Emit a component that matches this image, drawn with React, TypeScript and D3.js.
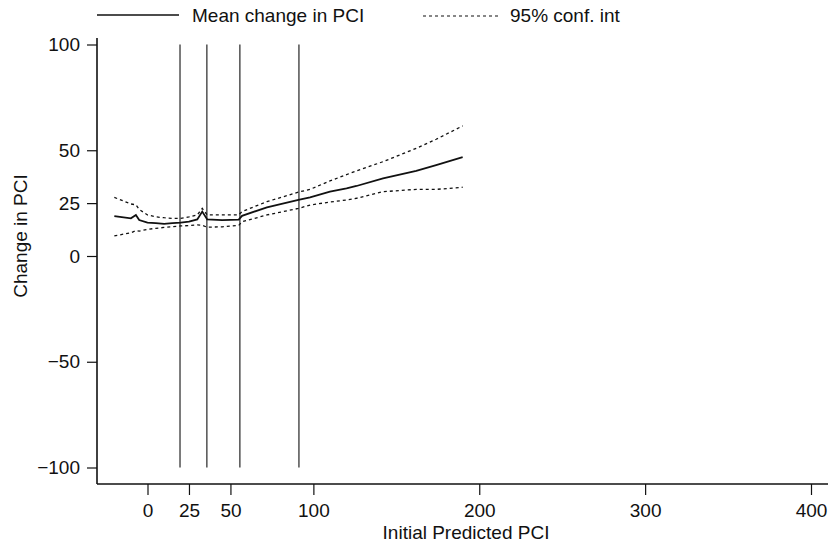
import React, { useRef, useEffect } from "react";
import * as d3 from "d3";

// values
const pci = [-20, -10, -7, -5, 0, 5, 10, 15, 20, 25, 30, 33, 36, 45, 55, 57, 72, 91, 98, 110, 120, 126, 142, 162, 174, 190];
const meanChange = [18.9, 17.8, 19.4, 17, 15.8, 15.5, 15.2, 15.5, 15.8, 16.2, 17.3, 21, 17.3, 17, 17.2, 19, 23, 26.5, 27.7, 30.4, 32, 33.1, 36.7, 40.3, 43, 46.7];
const upperCI = [27.7, 24.6, 24.2, 22, 19.4, 18.5, 18.1, 17.8, 17.8, 18.5, 19.4, 22.5, 19.4, 19.4, 19.5, 21, 25.7, 30.2, 31.5, 35.5, 38.5, 40.2, 44.6, 50.9, 55.2, 61.5];
const lowerCI = [9.5, 11, 12, 11.8, 12.6, 13.1, 13.5, 13.8, 14.2, 14.4, 14.7, 14.5, 13.6, 13.8, 14.5, 16.2, 19.4, 22.5, 24.1, 25.5, 26.5, 27.3, 30.4, 31.5, 31.5, 32.5];
const cutPoints = [19.6, 35.8, 55.7, 91.3];
const xTicks = [0, 25, 50, 100, 200, 300, 400];
const yTicks = [-100, -50, 0, 25, 50, 100];

const font = "'Liberation Sans', Arial, sans-serif";

function App() {
    const ref = useRef(null);

    const width = 831, height = 552;
    const left = 97, bottom = 484;

    useEffect(() => {
        const svg = d3.select(ref.current);
        svg.selectAll("*").remove();

        const x = d3.scaleLinear().domain([0, 400]).range([147.5, 811]);
        const y = d3.scaleLinear().domain([-100, 100]).range([467.5, 44.5]);

        // axes
        const xAxis = svg.append("g")
            .attr("transform", "translate(0," + bottom + ")")
            .call(d3.axisBottom(x).tickValues(xTicks).tickSize(11).tickPadding(9).tickFormat(d3.format("d")));
        xAxis.select(".domain").attr("d", "M" + left + ",0H828");
        const yAxis = svg.append("g")
            .attr("transform", "translate(" + left + ",0)")
            .call(d3.axisLeft(y).tickValues(yTicks).tickSize(10).tickPadding(7)
                .tickFormat(d => (d < 0 ? "\u2212" + Math.abs(d) : String(d))));
        yAxis.select(".domain").attr("d", "M0,38V" + bottom);

        svg.selectAll(".domain").attr("stroke", "#111").attr("stroke-width", 1.6);
        svg.selectAll(".tick line").attr("stroke", "#111").attr("stroke-width", 1.2);
        svg.selectAll(".tick text")
            .attr("fill", "#111")
            .style("font-family", font)
            .style("font-size", "19px");

        // vertical cut lines
        svg.append("g").selectAll("line")
            .data(cutPoints)
            .enter()
            .append("line")
            .attr("x1", d => x(d)).attr("x2", d => x(d))
            .attr("y1", y(100)).attr("y2", y(-100))
            .attr("stroke", "#111")
            .attr("stroke-width", 1.1);

        const line = (vals) => d3.line()
            .x((d, i) => x(pci[i]))
            .y(d => y(d))(vals);

        svg.append("path").attr("d", line(upperCI))
            .attr("fill", "none").attr("stroke", "#111").attr("stroke-width", 1.3).attr("stroke-dasharray", "3,3");
        svg.append("path").attr("d", line(lowerCI))
            .attr("fill", "none").attr("stroke", "#111").attr("stroke-width", 1.3).attr("stroke-dasharray", "3,3");
        svg.append("path").attr("d", line(meanChange))
            .attr("fill", "none").attr("stroke", "#111").attr("stroke-width", 1.8);

        // legend
        const legend = svg.append("g").attr("class", "legend");
        legend.append("line").attr("x1", 97).attr("x2", 179).attr("y1", 15).attr("y2", 15)
            .attr("stroke", "#111").attr("stroke-width", 1.5);
        legend.append("text").attr("x", 192).attr("y", 22).text("Mean change in PCI");
        legend.append("line").attr("x1", 423).attr("x2", 500).attr("y1", 16).attr("y2", 16)
            .attr("stroke", "#111").attr("stroke-width", 1.2).attr("stroke-dasharray", "3,3");
        legend.append("text").attr("x", 510).attr("y", 22).text("95% conf. int");

        // axis titles
        const titles = svg.append("g").attr("class", "titles");
        titles.append("text")
            .attr("text-anchor", "middle")
            .attr("x", 466)
            .attr("y", 539)
            .text("Initial Predicted PCI");
        titles.append("text")
            .attr("text-anchor", "middle")
            .attr("transform", "rotate(-90)")
            .attr("x", -236)
            .attr("y", 27)
            .text("Change in PCI");

        svg.selectAll(".legend text, .titles text")
            .attr("fill", "#111")
            .style("font-family", font)
            .style("font-size", "19px");
    }, []);

    return (
        <svg ref={ref} width={width} height={height}
            style={{ position: "absolute", left: 0, top: 0, background: "#fff" }} />
    );
}

export default App;
